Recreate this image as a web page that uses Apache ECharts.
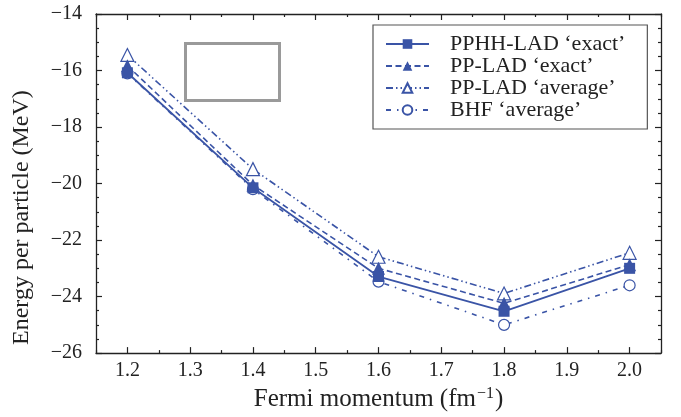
<!DOCTYPE html>
<html><head><meta charset="utf-8">
<script src="https://cdn.jsdelivr.net/npm/echarts@6/dist/echarts.min.js"></script>
<style>html,body{margin:0;padding:0;background:#fff}#c{width:681px;height:417px}</style>
</head><body><div id="c"></div>
<script>
const kF = [1.2, 1.4, 1.6, 1.8, 2.0];
const pphhExact = [-16.08, -20.15, -23.29, -24.52, -23.0];
const ppExact = [-15.83, -20.05, -23.0, -24.24, -22.87];
const ppAverage = [-15.45, -19.49, -22.59, -23.89, -22.45];
const bhfAverage = [-16.1, -20.2, -23.47, -25.0, -23.6];
const xMajorTicks = [1.2, 1.3, 1.4, 1.5, 1.6, 1.7, 1.8, 1.9, 2.0];
const xMinorTicks = [1.15, 1.25, 1.35, 1.45, 1.55, 1.65, 1.75, 1.85, 1.95, 2.05];
const seriesNames = ["PPHH-LAD \u2018exact\u2019", "PP-LAD \u2018exact\u2019", "PP-LAD \u2018average\u2019", "BHF \u2018average\u2019"];

const BLUE = '#3a54a6';
const AX = '#222';
const FONT = '"Liberation Serif", "DejaVu Serif", serif';
const pair = (xs, ys) => xs.map((x, i) => [x, ys[i]]);
const minus = v => String(v).replace('-', '\u2212');

const axisLine = { show: true, lineStyle: { color: AX, width: 1.3 } };

const chart = echarts.init(document.getElementById('c'), null, { renderer: 'canvas' });
chart.setOption({
  animation: false,
  backgroundColor: '#fff',
  grid: { left: 96, right: 20, top: 14, bottom: 62, containLabel: false },
  xAxis: [
    { type: 'value', min: 1.15, max: 2.05, position: 'bottom',
      axisLine, splitLine: { show: false },
      axisTick: { show: true, inside: true, length: 6, customValues: xMajorTicks, lineStyle: { color: AX, width: 1.2 } },
      axisLabel: { customValues: xMajorTicks, formatter: v => v.toFixed(1), fontFamily: FONT, fontSize: 20, color: '#222', margin: 8 },
      name: '{a|Fermi momentum (fm}{s|\u22121}{a|)}', nameLocation: 'middle', nameGap: 31,
      nameTextStyle: { fontFamily: FONT, fontSize: 25, color: '#222',
        rich: { a: { fontFamily: FONT, fontSize: 25, color: '#222' },
                s: { fontFamily: FONT, fontSize: 16, color: '#222', verticalAlign: 'top', padding: [0, 1, 11, 1] } } } },
    { type: 'value', min: 1.15, max: 2.05, position: 'bottom',
      axisLine: { show: false }, splitLine: { show: false },
      axisTick: { show: true, inside: true, length: 3, customValues: xMinorTicks, lineStyle: { color: AX, width: 1.2 } },
      axisLabel: { show: false } },
    { type: 'value', min: 1.15, max: 2.05, position: 'top',
      axisLine, splitLine: { show: false },
      axisTick: { show: true, inside: true, length: 6, customValues: xMajorTicks, lineStyle: { color: AX, width: 1.2 } },
      axisLabel: { show: false } },
    { type: 'value', min: 1.15, max: 2.05, position: 'top',
      axisLine: { show: false }, splitLine: { show: false },
      axisTick: { show: true, inside: true, length: 3, customValues: xMinorTicks, lineStyle: { color: AX, width: 1.2 } },
      axisLabel: { show: false } }
  ],
  yAxis: [
    { type: 'value', min: -26, max: -14, interval: 2, position: 'left',
      axisLine, splitLine: { show: false },
      axisTick: { show: true, inside: true, length: 6, lineStyle: { color: AX, width: 1.2 } },
      minorTick: { show: true, splitNumber: 4, length: 3, lineStyle: { color: AX, width: 1.2 } },
      minorSplitLine: { show: false },
      axisLabel: { formatter: minus, fontFamily: FONT, fontSize: 20, color: '#222', margin: 14 },
      name: 'Energy per particle (MeV)', nameLocation: 'middle', nameGap: 62,
      nameTextStyle: { fontFamily: FONT, fontSize: 24, color: '#222', padding: [0, 68, 0, 0] } },
    { type: 'value', min: -26, max: -14, interval: 2, position: 'right',
      axisLine, splitLine: { show: false },
      axisTick: { show: true, inside: true, length: 6, lineStyle: { color: AX, width: 1.2 } },
      minorTick: { show: true, splitNumber: 4, length: 3, lineStyle: { color: AX, width: 1.2 } },
      minorSplitLine: { show: false },
      axisLabel: { show: false } }
  ],
  legend: {
    orient: 'vertical', left: 373, top: 25,
    data: seriesNames,
    padding: [8, 10, 8, 12],
    itemWidth: 43, itemHeight: 12, itemGap: 0,
    borderColor: '#555', borderWidth: 1.2, borderRadius: 0,
    backgroundColor: '#fff',
    textStyle: { fontFamily: FONT, fontSize: 22, color: '#222', padding: [0, 12, 0, 16], lineHeight: 22 }
  },
  graphic: [
    { type: 'rect', left: 183, top: 41, shape: { x: 0, y: 0, width: 94, height: 57 },
      style: { fill: 'none', stroke: '#9a9a9a', lineWidth: 3 } }
  ],
  series: [
    { name: seriesNames[3], type: 'line', data: pair(kF, bhfAverage), z: 2,
      symbol: 'circle', symbolSize: 11, showAllSymbol: true,
      lineStyle: { color: BLUE, width: 1.6, type: [5, 6, 1.5, 6] },
      itemStyle: { color: '#fff', borderColor: BLUE, borderWidth: 1.2 } },
    { name: seriesNames[2], type: 'line', data: pair(kF, ppAverage), z: 3,
      symbol: 'triangle', symbolSize: 13,
      lineStyle: { color: BLUE, width: 1.6, type: [7, 3, 1.5, 3, 1.5, 3] },
      itemStyle: { color: '#fff', borderColor: BLUE, borderWidth: 1.2 } },
    { name: seriesNames[1], type: 'line', data: pair(kF, ppExact), z: 4,
      symbol: 'triangle', symbolSize: 13,
      lineStyle: { color: BLUE, width: 1.6, type: [6, 3.5] },
      itemStyle: { color: BLUE } },
    { name: seriesNames[0], type: 'line', data: pair(kF, pphhExact), z: 5,
      symbol: 'rect', symbolSize: 11,
      lineStyle: { color: BLUE, width: 1.8, type: 'solid' },
      itemStyle: { color: BLUE } }
  ]
});
</script></body></html>
